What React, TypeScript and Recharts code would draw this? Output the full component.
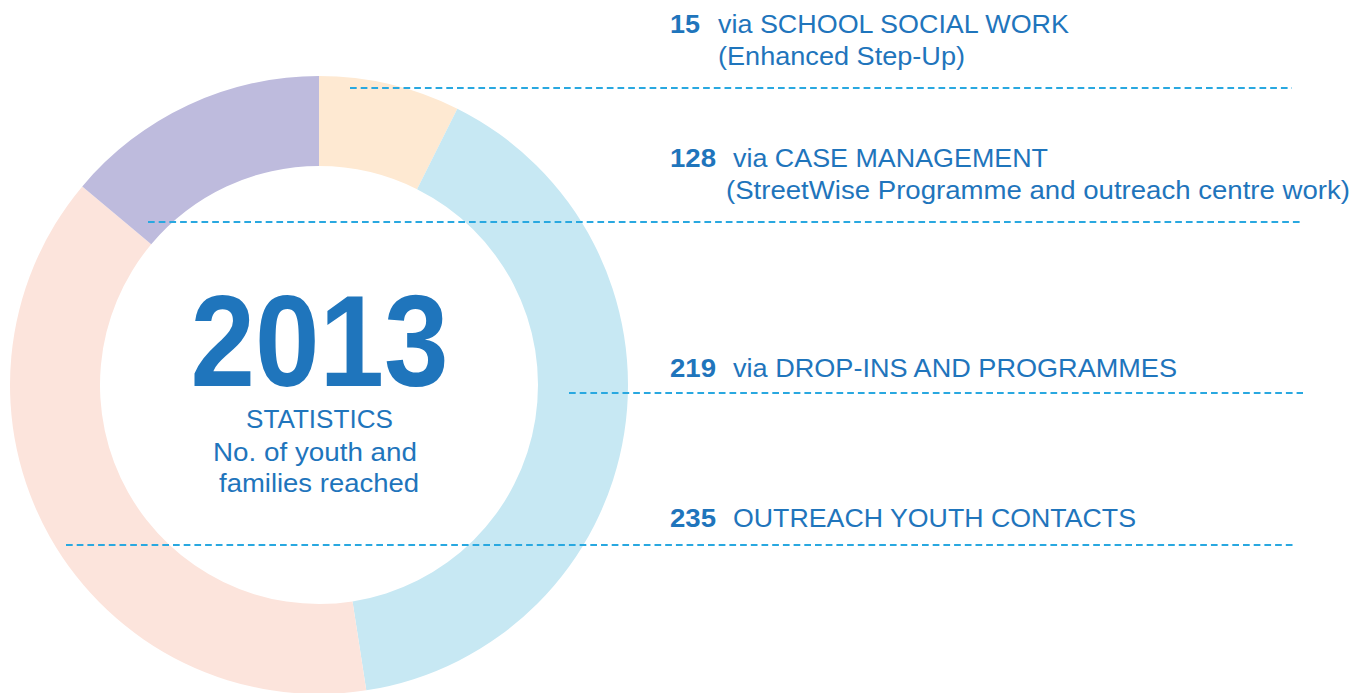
import { PieChart, Pie, Cell } from "recharts";

// slices, clockwise from 12 o'clock
const categories = [
  "SCHOOL SOCIAL WORK",
  "DROP-INS AND PROGRAMMES",
  "OUTREACH YOUTH CONTACTS",
  "CASE MANAGEMENT",
];
const counts = [15, 219, 235, 128];
// arc size as drawn in the graphic (degrees), not proportional to counts
const sliceShares = [26.6, 144.6, 138.8, 50];
const sliceColors = ["#FEE9D2", "#C7E8F3", "#FCE4DC", "#BEBBDD"];

// right-hand labels, top to bottom
const labelNumbers = ["15", "128", "219", "235"];
const labelMain = [
  "via SCHOOL SOCIAL WORK",
  "via CASE MANAGEMENT",
  "via DROP-INS AND PROGRAMMES",
  "OUTREACH YOUTH CONTACTS",
];
const labelSub = [
  "(Enhanced Step-Up)",
  "(StreetWise Programme and outreach centre work)",
  "",
  "",
];

const centerYear = "2013";
const centerLines = ["STATISTICS", "No. of youth and", "families reached"];

const BLUE = "#1F75BC";
const DASH = "#29A8E0";
const FONT = "'Liberation Sans', Arial, Helvetica, sans-serif";

export default function App() {
  const pieData = categories.map((name, i) => ({
    name,
    count: counts[i],
    share: sliceShares[i],
  }));

  // layout of each label row (x positions, baselines, widths, dashed rule)
  const rows = [
    { y: 33, size: 26, numW: 30, mainX: 718, mainW: 351, subX: 718, subY: 65, subW: 247, ruleY: 88, x1: 350, x2: 1292 },
    { y: 167, size: 25, numW: 46, mainX: 733, mainW: 315, subX: 726, subY: 199, subW: 624, ruleY: 222, x1: 148, x2: 1303 },
    { y: 377, size: 26, numW: 46, mainX: 733, mainW: 444, subX: 0, subY: 0, subW: 0, ruleY: 393, x1: 569, x2: 1303 },
    { y: 527, size: 26, numW: 46, mainX: 733, mainW: 403, subX: 0, subY: 0, subW: 0, ruleY: 545, x1: 66, x2: 1296 },
  ];

  const centerLayout = [
    { y: 428, w: 147, cx: 319.5 },
    { y: 461, w: 204, cx: 315 },
    { y: 492, w: 200, cx: 319 },
  ];

  return (
    <div
      style={{
        position: "absolute",
        left: 0,
        top: 0,
        width: 1372,
        height: 693,
        background: "#ffffff",
        overflow: "hidden",
      }}
    >
      <PieChart width={1372} height={693} margin={{ top: 0, right: 0, bottom: 0, left: 0 }}>
        <Pie
          data={pieData}
          dataKey="share"
          nameKey="name"
          cx={319}
          cy={385}
          innerRadius={219}
          outerRadius={309}
          startAngle={90}
          endAngle={-270}
          paddingAngle={0}
          stroke="none"
          isAnimationActive={false}
        >
          {pieData.map((d, i) => (
            <Cell key={d.name} fill={sliceColors[i]} stroke="none" />
          ))}
        </Pie>
      </PieChart>

      {/* annotation overlay: labels, dashed rules, centre title */}
      <svg
        width={1372}
        height={693}
        style={{ position: "absolute", left: 0, top: 0, pointerEvents: "none" }}
        fontFamily={FONT}
      >
        {rows.map((r, i) => (
          <g key={i}>
            <line
              x1={r.x1}
              x2={r.x2}
              y1={r.ruleY}
              y2={r.ruleY}
              stroke={DASH}
              strokeWidth={2}
              strokeDasharray="6.7 4"
            />
            <text
              x={670}
              y={r.y}
              fontSize={r.size}
              fontWeight="bold"
              fill={BLUE}
              textLength={r.numW}
              lengthAdjust="spacingAndGlyphs"
            >
              {labelNumbers[i]}
            </text>
            <text
              x={r.mainX}
              y={r.y}
              fontSize={r.size}
              fill={BLUE}
              textLength={r.mainW}
              lengthAdjust="spacingAndGlyphs"
            >
              {labelMain[i]}
            </text>
            {labelSub[i] && (
              <text
                x={r.subX}
                y={r.subY}
                fontSize={r.size}
                fill={BLUE}
                textLength={r.subW}
                lengthAdjust="spacingAndGlyphs"
              >
                {labelSub[i]}
              </text>
            )}
          </g>
        ))}

        <text
          x={319.5}
          y={386}
          textAnchor="middle"
          fontSize={130}
          fontWeight="bold"
          fill={BLUE}
          textLength={258}
          lengthAdjust="spacingAndGlyphs"
        >
          {centerYear}
        </text>
        {centerLines.map((t, i) => (
          <text
            key={t}
            x={centerLayout[i].cx}
            y={centerLayout[i].y}
            textAnchor="middle"
            fontSize={25}
            fill={BLUE}
            textLength={centerLayout[i].w}
            lengthAdjust="spacingAndGlyphs"
          >
            {t}
          </text>
        ))}
      </svg>
    </div>
  );
}
